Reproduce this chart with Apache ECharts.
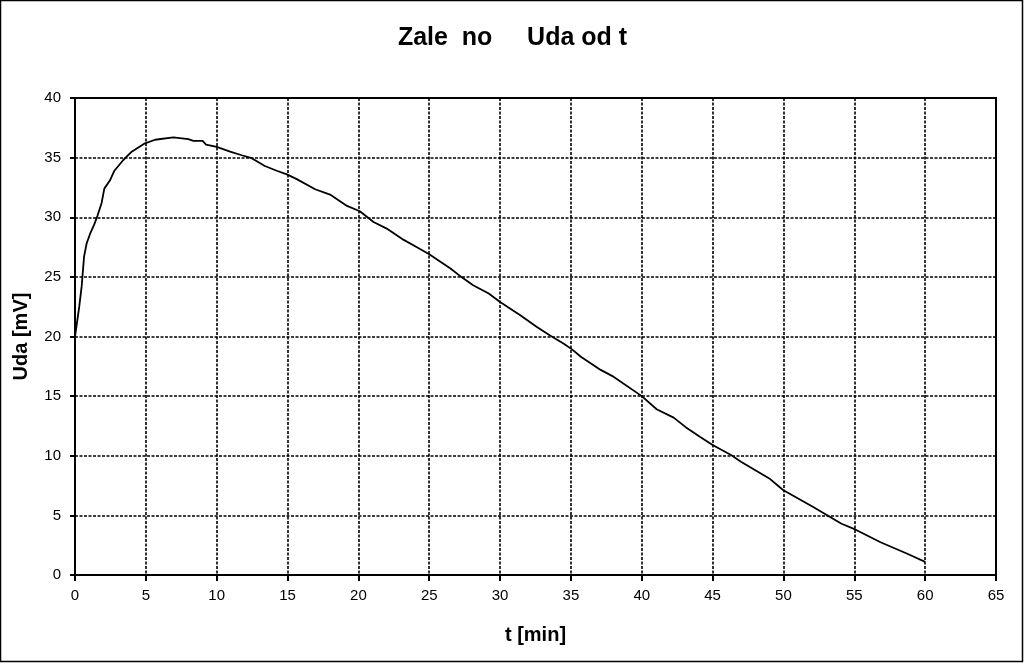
<!DOCTYPE html>
<html>
<head>
<meta charset="utf-8">
<script src="https://cdn.jsdelivr.net/npm/echarts@6/dist/echarts.min.js"></script>
<style>
html,body{margin:0;padding:0;background:#fff;}
#chart{width:1025px;height:663px;}
</style>
</head>
<body>
<div id="chart"></div>
<script>
const titleText = "Zale  no     Uda od t";
const xAxisName = "t [min]";
const yAxisName = "Uda [mV]";
const tValues = [0, 0.12, 0.30, 0.47, 0.64, 0.82, 1.06, 1.36, 1.58, 1.88, 2.07, 2.47, 2.78, 3.41, 4.0, 4.94, 5.65, 6.94, 8.0, 8.35, 9.01, 9.25, 10.0, 10.95, 11.77, 12.47, 13.4, 14.24, 14.95, 15.65, 16.95, 18.0, 19.2, 20.1, 21.07, 22.0, 23.2, 24.1, 25.0, 26.5, 27.3, 28.1, 29.2, 30.0, 31.4, 32.6, 33.5, 34.5, 35.1, 35.7, 37.1, 37.9, 40.0, 41.05, 42.25, 43.1, 44.1, 45.0, 46.3, 47.0, 49.0, 49.7, 50.0, 52.1, 54.1, 55.1, 56.85, 58.7, 60.0];
const uValues = [20.0, 20.0, 22.5, 24.2, 26.7, 27.8, 28.6, 29.4, 30.1, 31.2, 32.4, 33.1, 33.9, 34.8, 35.5, 36.2, 36.5, 36.7, 36.55, 36.4, 36.4, 36.1, 35.9, 35.5, 35.2, 34.95, 34.3, 33.9, 33.6, 33.2, 32.35, 31.9, 30.95, 30.5, 29.6, 29.05, 28.1, 27.5, 26.9, 25.7, 24.96, 24.3, 23.6, 22.9, 21.8, 20.8, 20.1, 19.4, 18.9, 18.3, 17.2, 16.7, 15.0, 13.9, 13.2, 12.4, 11.6, 10.9, 10.06, 9.5, 8.1, 7.4, 7.1, 5.7, 4.3, 3.8, 2.75, 1.8, 1.1];

const seriesData = tValues.map((t, i) => [t, uValues[i]]);
const font = "'Liberation Sans', Arial, sans-serif";
const chart = echarts.init(document.getElementById('chart'), null, {renderer: 'canvas'});
chart.setOption({
  backgroundColor: '#fff',
  animation: false,
  title: {
    text: titleText,
    left: 'center',
    top: 21,
    textStyle: {fontFamily: font, fontSize: 25, fontWeight: 'bold', color: '#000'}
  },
  grid: {
    left: 75, top: 98, right: 29, bottom: 88,
    show: true, borderColor: '#000', borderWidth: 2, backgroundColor: '#fff'
  },
  xAxis: {
    type: 'value', min: 0, max: 65, interval: 5,
    name: xAxisName, nameLocation: 'middle', nameGap: 50,
    nameTextStyle: {fontFamily: font, fontSize: 20, fontWeight: 'bold', color: '#000'},
    axisLine: {show: true, onZero: false, lineStyle: {color: '#000', width: 2}},
    axisTick: {show: true, length: 6, lineStyle: {color: '#000', width: 2}},
    axisLabel: {fontFamily: font, fontSize: 15, color: '#000', margin: 13},
    splitLine: {show: true, lineStyle: {color: '#000', width: 1.6, type: [3, 1.5]}}
  },
  yAxis: {
    type: 'value', min: 0, max: 40, interval: 5,
    name: yAxisName, nameLocation: 'middle', nameGap: 44, nameRotate: 90,
    nameTextStyle: {fontFamily: font, fontSize: 20, fontWeight: 'bold', color: '#000'},
    axisLine: {show: true, onZero: false, lineStyle: {color: '#000', width: 2}},
    axisTick: {show: true, length: 5, lineStyle: {color: '#000', width: 2}},
    axisLabel: {fontFamily: font, fontSize: 15, color: '#000', margin: 14},
    splitLine: {show: true, lineStyle: {color: '#000', width: 1.6, type: [3, 1.5]}}
  },
  series: [{
    type: 'line',
    data: seriesData,
    showSymbol: false,
    smooth: false,
    lineStyle: {color: '#000', width: 1.8}
  }],
  graphic: [{
    type: 'rect',
    shape: {x: 0.5, y: 0.5, width: 1022, height: 661},
    style: {fill: 'none', stroke: '#000', lineWidth: 1.5},
    silent: true
  }]
});
</script>
</body>
</html>
